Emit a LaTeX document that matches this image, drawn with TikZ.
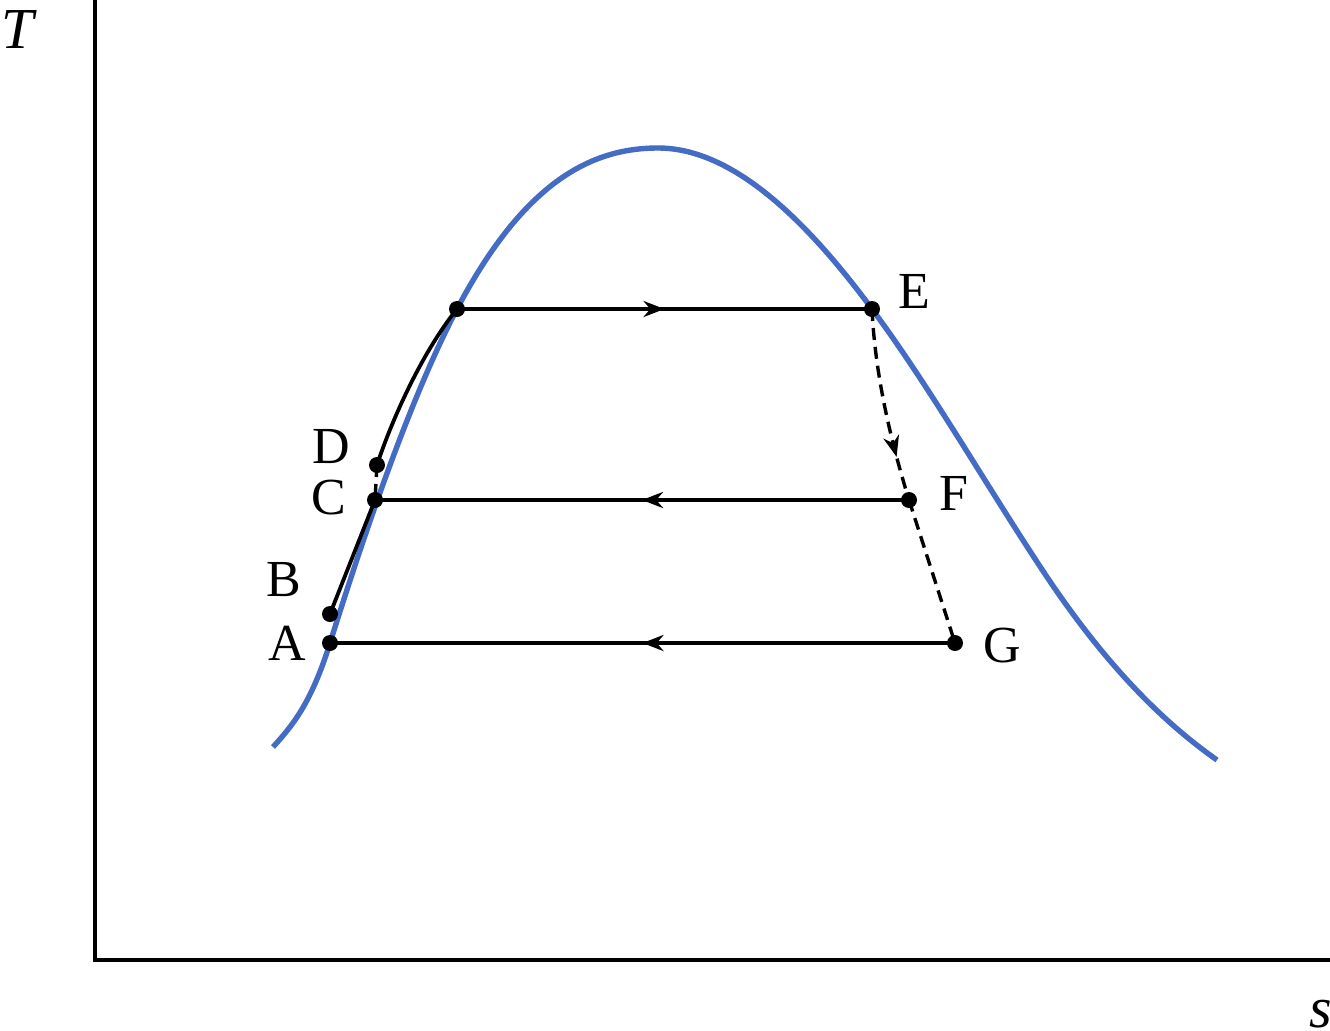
\documentclass[tikz,border=0pt]{standalone}
\usepackage{fontspec}
\setmainfont{Liberation Serif}
\usetikzlibrary{arrows.meta,decorations.markings}
\definecolor{curveblue}{RGB}{68,108,196}
\begin{document}
\begin{tikzpicture}[x=0.5pt,y=-0.5pt,
  dot/.style={circle,fill=black,inner sep=0pt,minimum size=8pt},
  lbl/.style={font=\fontsize{26}{30}\selectfont,inner sep=0pt},
  axlbl/.style={font=\fontsize{29}{33}\selectfont\itshape,inner sep=0pt},
  axisline/.style={line width=1.6pt},
  proc/.style={line width=1.9pt},
  dashproc/.style={line width=1.7pt,dash pattern=on 6pt off 3.5pt},
  midarrow/.style={postaction={decorate},decoration={markings,
     mark=at position #1 with {\arrow{Stealth[length=10.5pt,width=8pt]}}}},
  satcurve/.style={curveblue,line width=2.7pt}]
\useasboundingbox (0,0) rectangle (1330,1030);
% axes
\coordinate (ytop) at (95,0);
\coordinate (O) at (95,960);
\coordinate (xend) at (1330,960);
\draw[axisline] (ytop) -- (O) -- (xend);
\node[axlbl,anchor=base west] (Tlbl) at (1,48) {T};
\node[axlbl,anchor=base west] (slbl) at (1309,1027) {s};
% saturation dome
\draw[satcurve] (273,747) .. controls (292,726) and (311,704) .. (330,643)
  .. controls (372,509) and (415,389) .. (457,309)
  .. controls (524,182) and (591,148) .. (658,148)
  .. controls (729,148) and (801,213) .. (872,309)
  .. controls (930,387) and (989,490) .. (1047,577)
  .. controls (1104,662) and (1160,720) .. (1217,760);
% state points
\node[dot] (P) at (457,309) {};
\node[dot] (E) at (872,309) {};
\node[dot] (D) at (377,465) {};
\node[dot] (C) at (375,500) {};
\node[dot] (B) at (330,614) {};
\node[dot] (A) at (330,643) {};
\node[dot] (F) at (909,500) {};
\node[dot] (G) at (955,643) {};
% connectors
\draw[proc,midarrow=0.5] (P.center) -- (E.center);
\draw[proc,midarrow=0.5] (F.center) -- (C.center);
\draw[proc,midarrow=0.5] (G.center) -- (A.center);
\draw[proc] (B.center) -- (C.center);
\draw[proc] (D.center) .. controls (390,425) and (420,355) .. (P.center);
\draw[dashproc] (D.center) -- (C.center);
\draw[dashproc,midarrow=0.77] (E.center) .. controls (875,372) and (889,435) .. (F.center);
\draw[dashproc] (F.center) -- (G.center);
% labels
\node[lbl] (lE) at (914,291) {E};
\node[lbl] (lF) at (954,493) {F};
\node[lbl] (lG) at (1002,646) {G};
\node[lbl] (lD) at (331,447) {D};
\node[lbl] (lC) at (329,498) {C};
\node[lbl] (lB) at (284,580) {B};
\node[lbl] (lA) at (287,643) {A};
\end{tikzpicture}
\end{document}
